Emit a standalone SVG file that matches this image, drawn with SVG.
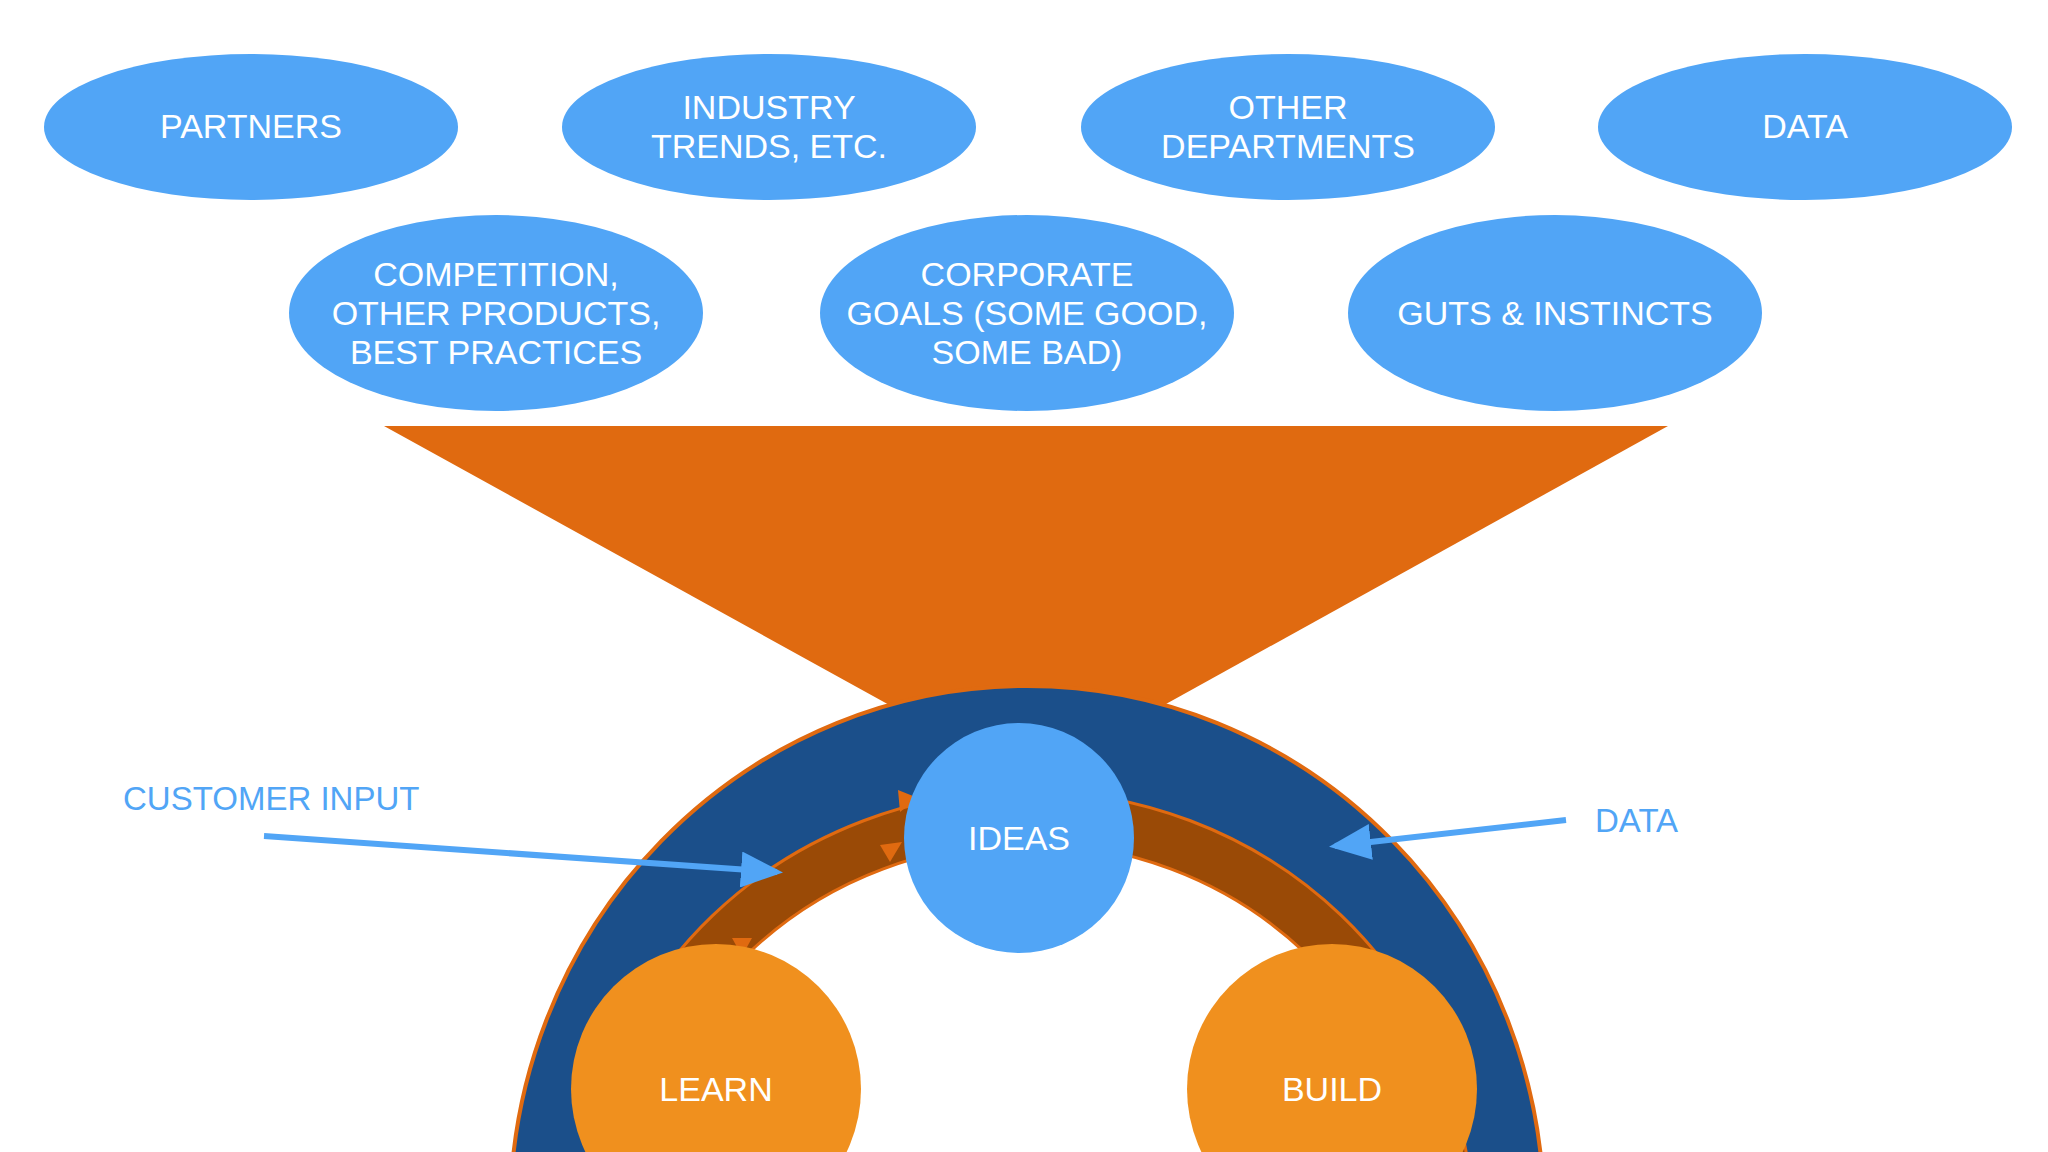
<svg xmlns="http://www.w3.org/2000/svg" width="2048" height="1152" viewBox="0 0 2048 1152">
<style>
.e{fill:#51a5f6}
.t{font-family:"Liberation Sans",Arial,sans-serif;font-size:34px;fill:#fff;text-anchor:middle}
.o{fill:#f0901e}
.lbl{font-family:"Liberation Sans",Arial,sans-serif;font-size:33px;fill:#51a5f6}
.ar{stroke:#51a5f6;stroke-width:6;fill:none}
</style>
<defs>
<marker id="ah" markerWidth="7" markerHeight="6" refX="6" refY="3" orient="auto" markerUnits="strokeWidth"><path d="M0,0 L7,3 L0,6 Z" fill="#51a5f6"/></marker>
</defs>
<rect width="2048" height="1152" fill="#fff"/>
<g id="funnel"><polygon points="384,426 1668,426 1027,781" fill="#e06a10"/></g>
<g id="ring">
<ellipse cx="1027" cy="1215" rx="517" ry="529" fill="#1b4f8a" stroke="#e06a10" stroke-width="4"/>
<ellipse cx="1027" cy="1215" rx="418" ry="398" fill="none" stroke="#9a4a06" stroke-width="52"/>
<ellipse cx="1027" cy="1215" rx="444" ry="424" fill="none" stroke="#e06a10" stroke-width="3"/>
<ellipse cx="1027" cy="1215" rx="392" ry="372" fill="#fff" stroke="#e06a10" stroke-width="3"/>
</g>
<g id="n1"><ellipse class="e" cx="251" cy="127" rx="207" ry="73"/><text class="t" x="251" y="138">PARTNERS</text></g>
<g id="n2"><ellipse class="e" cx="769" cy="127" rx="207" ry="73"/><text class="t" x="769" y="119">INDUSTRY</text><text class="t" x="769" y="158">TRENDS, ETC.</text></g>
<g id="n3"><ellipse class="e" cx="1288" cy="127" rx="207" ry="73"/><text class="t" x="1288" y="119">OTHER</text><text class="t" x="1288" y="158">DEPARTMENTS</text></g>
<g id="n4"><ellipse class="e" cx="1805" cy="127" rx="207" ry="73"/><text class="t" x="1805" y="138">DATA</text></g>
<g id="n5"><ellipse class="e" cx="496" cy="313" rx="207" ry="98"/><text class="t" x="496" y="286">COMPETITION,</text><text class="t" x="496" y="325">OTHER PRODUCTS,</text><text class="t" x="496" y="364">BEST PRACTICES</text></g>
<g id="n6"><ellipse class="e" cx="1027" cy="313" rx="207" ry="98"/><text class="t" x="1027" y="286">CORPORATE</text><text class="t" x="1027" y="325">GOALS (SOME GOOD,</text><text class="t" x="1027" y="364">SOME BAD)</text></g>
<g id="n7"><ellipse class="e" cx="1555" cy="313" rx="207" ry="98"/><text class="t" x="1555" y="325">GUTS &amp; INSTINCTS</text></g>
<g id="heads" fill="#e06a10">
<polygon points="898,790 918,798 900,812"/>
<polygon points="880,845 902,842 890,862"/>
<polygon points="732,938 752,938 742,956"/>
</g>
<g id="ideas"><circle class="e" cx="1019" cy="838" r="115"/><text class="t" x="1019" y="850">IDEAS</text></g>
<g id="learn"><circle class="o" cx="716" cy="1089" r="145"/><text class="t" x="716" y="1101">LEARN</text></g>
<g id="build"><circle class="o" cx="1332" cy="1089" r="145"/><text class="t" x="1332" y="1101">BUILD</text></g>
<g id="connectors">
<line class="ar" x1="264" y1="836" x2="777" y2="872" marker-end="url(#ah)"/>
<line class="ar" x1="1566" y1="820" x2="1335" y2="846" marker-end="url(#ah)"/>
</g>
<text class="lbl" x="123" y="810">CUSTOMER INPUT</text>
<text class="lbl" x="1595" y="832">DATA</text>
</svg>
